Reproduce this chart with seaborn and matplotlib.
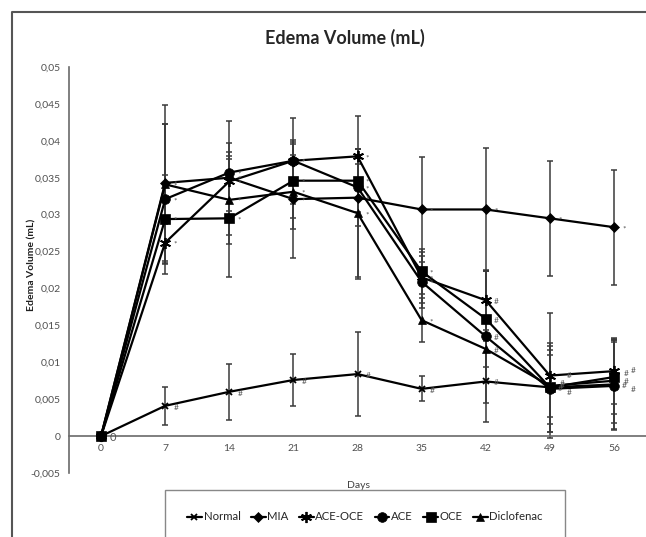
import numpy as np
import pandas as pd
import matplotlib
matplotlib.use('Agg')
import matplotlib.pyplot as plt
import seaborn as sns
from matplotlib.lines import Line2D

# data
days = [0, 7, 14, 21, 28, 35, 42, 49, 56]
groups = ['Normal', 'MIA', 'ACE-OCE', 'ACE', 'OCE', 'Diclofenac']

normal = [0, 0.0041, 0.0060, 0.0076, 0.0084, 0.0064, 0.0074, 0.0066, 0.0070]
mia = [0, 0.0343, 0.0350, 0.0321, 0.0323, 0.0307, 0.0307, 0.0295, 0.0283]
ace_oce = [0, 0.0262, 0.0345, 0.0373, 0.0379, 0.0215, 0.0184, 0.0082, 0.0088]
ace = [0, 0.0321, 0.0357, 0.0373, 0.0337, 0.0209, 0.0135, 0.0064, 0.0068]
oce = [0, 0.0294, 0.0295, 0.0346, 0.0346, 0.0223, 0.0159, 0.0066, 0.0080]
diclofenac = [0, 0.0341, 0.0320, 0.0331, 0.0302, 0.0157, 0.0118, 0.0068, 0.0075]

normal_err = [0, 0.0026, 0.0038, 0.0035, 0.0057, 0.0017, 0.0055, 0.0050, 0.0060]
mia_err = [0, 0.0080, 0.0077, 0.0080, 0.0110, 0.0071, 0.0083, 0.0078, 0.0078]
ace_oce_err = [0, 0.0025, 0.0040, 0.0025, 0.0010, 0.0035, 0.0040, 0.0085, 0.0045]
ace_err = [0, 0.0102, 0.0040, 0.0058, 0.0052, 0.0035, 0.0090, 0.0058, 0.0060]
oce_err = [0, 0.0060, 0.0080, 0.0050, 0.0043, 0.0030, 0.0065, 0.0060, 0.0050]
diclofenac_err = [0, 0.0108, 0.0060, 0.0050, 0.0087, 0.0030, 0.0045, 0.0042, 0.0057]

y_ticks = [-0.005, 0, 0.005, 0.01, 0.015, 0.02, 0.025, 0.03, 0.035, 0.04, 0.045, 0.05]
y_tick_labels = ['-0,005', '0', '0,005', '0,01', '0,015', '0,02', '0,025',
                 '0,03', '0,035', '0,04', '0,045', '0,05']

means = [normal, mia, ace_oce, ace, oce, diclofenac]
errs = [normal_err, mia_err, ace_oce_err, ace_err, oce_err, diclofenac_err]

df = pd.DataFrame({
    'Days': np.tile(days, len(groups)),
    'Volume': np.concatenate(means),
    'Err': np.concatenate(errs),
    'Group': np.repeat(groups, len(days)),
})

sns.set_style('white')
plt.rcParams['font.family'] = ['Lato', 'DejaVu Sans']

markers = {'Normal': 'x', 'MIA': 'D', 'ACE-OCE': (6, 2, 0),
           'ACE': 'o', 'OCE': 's', 'Diclofenac': '^'}
msizes = {'Normal': 5, 'MIA': 5, 'ACE-OCE': 8, 'ACE': 7, 'OCE': 7, 'Diclofenac': 6}

fig = plt.figure(figsize=(6.46, 5.37), dpi=100)
ax = fig.add_axes([69 / 646, 1 - 473 / 537, 1 - 69 / 646, (473 - 67) / 537])

# error bars first so lines sit on top
for g in groups:
    sub = df[df['Group'] == g]
    ax.errorbar(sub['Days'], sub['Volume'], yerr=sub['Err'], fmt='none',
                ecolor='#3a3a3a', elinewidth=1.1, capsize=2.5, capthick=1.1, zorder=2)

for g in groups:
    sub = df[df['Group'] == g]
    mk = markers[g]
    sns.lineplot(data=sub, x='Days', y='Volume', ax=ax, color='black', linewidth=1.6,
                 marker=mk, markersize=msizes[g], markeredgecolor='black',
                 markeredgewidth=1.3 if mk in ('x', (6, 2, 0)) else 0.5,
                 label=g, zorder=3, errorbar=None)

# significance marks
for i, g in enumerate(groups):
    sub = df[df['Group'] == g]
    for d, v in zip(sub['Days'], sub['Volume']):
        if d == 0:
            continue
        sym = '#' if (g == 'Normal' or (d >= 42 and g != 'MIA')) else '*'
        dy = -1
        dx = 6
        if d >= 49 and g not in ('Normal', 'MIA'):
            dx = 7 + (i % 2) * 5
            dy = (i - 3.5) * 5
        ax.annotate(sym, (d, v), xytext=(dx, dy), textcoords='offset points',
                    fontsize=6, color='#555555', va='center')
ax.annotate('0', (0, 0), xytext=(6, -1), textcoords='offset points',
            fontsize=8, color='#555555', va='center')

ax.set_xlim(-3.5, 59.5)
ax.set_ylim(-0.005, 0.05)
ax.set_xticks(days)
ax.set_xticklabels([str(d) for d in days])
ax.set_yticks(y_ticks)
ax.set_yticklabels(y_tick_labels)
ax.tick_params(axis='both', length=0, labelsize=7.5, colors='#505050', pad=6)
ax.set_xlabel('')
ax.set_ylabel('')

ax.spines['bottom'].set_position(('data', 0))
for s in ['top', 'right']:
    ax.spines[s].set_visible(False)
for s in ['left', 'bottom']:
    ax.spines[s].set_color('#6a6a6a')
    ax.spines[s].set_linewidth(1.2)

ax.legend_.remove()
handles, labels = ax.get_legend_handles_labels()
leg = fig.legend(handles, labels, loc='center', ncol=6,
                 bbox_to_anchor=(365 / 646, 1 - 517 / 537), fontsize=8.2,
                 frameon=True, handlelength=1.3, handletextpad=0.15,
                 columnspacing=0.9, borderpad=1.9, borderaxespad=0,
                 fancybox=False)
leg.get_frame().set_edgecolor('#6a6a6a')
leg.get_frame().set_linewidth(1.0)

fig.text(345 / 646, 1 - 38 / 537, 'Edema Volume (mL)', ha='center', va='center',
         fontsize=13, fontweight='bold')
fig.text(358 / 646, 1 - 485 / 537, 'Days', ha='center', va='center',
         fontsize=7.5, color='#404040')
fig.text(32 / 646, 1 - 265 / 537, 'Edema Volume (mL)', ha='center', va='center',
         rotation=90, fontsize=7.5, fontweight='bold', color='#202020')

# outer chart frame: only the left and top edges are inside the picture
fx, fy = 12 / 646, 1 - 12 / 537
fig.lines.append(Line2D([fx, fx, 1.0], [0.0, fy, fy], transform=fig.transFigure,
                        color='#555555', linewidth=1.5))

fig.savefig('out.png', dpi=100)
